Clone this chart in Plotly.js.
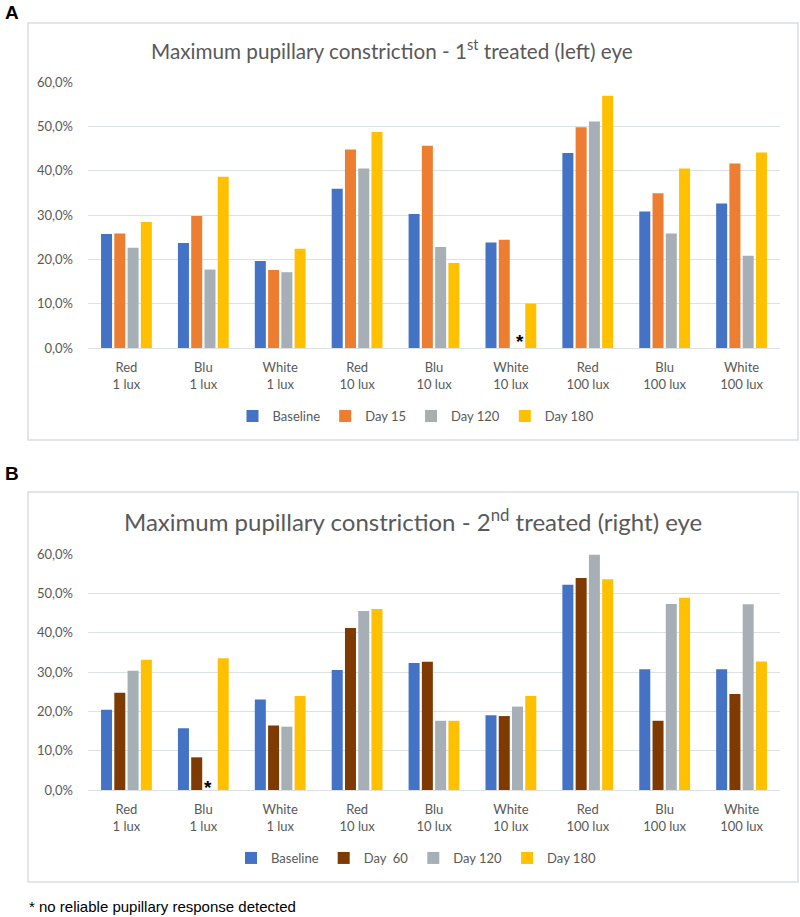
<!DOCTYPE html>
<html>
<head>
<meta charset="utf-8">
<script src="https://cdn.plot.ly/plotly-3.0.1.min.js"></script>
<style>
html, body { margin: 0; padding: 0; background: #ffffff; }
#chart { width: 800px; height: 917px; }
</style>
</head>
<body>
<div id="chart"></div>
<script>
// ---- data ----
const categories = ['Red<br>1 lux', 'Blu<br>1 lux', 'White<br>1 lux', 'Red<br>10 lux', 'Blu<br>10 lux', 'White<br>10 lux', 'Red<br>100 lux', 'Blu<br>100 lux', 'White<br>100 lux'];

const seriesNamesA = ['Baseline', 'Day 15', 'Day 120', 'Day 180'];
const baselineA = [25.7, 23.7, 19.6, 35.9, 30.2, 23.8, 44.0, 30.8, 32.6];
const day15A    = [25.8, 29.8, 17.6, 44.8, 45.6, 24.4, 49.8, 34.9, 41.6];
const day120A   = [22.6, 17.7, 17.1, 40.5, 22.8, null, 51.1, 25.8, 20.8];
const day180A   = [28.4, 38.6, 22.4, 48.7, 19.2, 10.0, 56.9, 40.5, 44.1];

const seriesNamesB = ['Baseline', 'Day\u00a0 60', 'Day 120', 'Day 180'];
const baselineB = [20.4, 15.7, 23.0, 30.5, 32.3, 19.0, 52.2, 30.7, 30.7];
const day60B    = [24.7, 8.3, 16.4, 41.2, 32.6, 18.8, 53.9, 17.6, 24.4];
const day120B   = [30.3, null, 16.1, 45.5, 17.6, 21.2, 59.8, 47.3, 47.2];
const day180B   = [33.1, 33.5, 23.9, 46.0, 17.6, 23.9, 53.6, 48.9, 32.7];

const yTicks = [0, 10, 20, 30, 40, 50, 60];
const yTickLabels = ['0,0%', '10,0%', '20,0%', '30,0%', '40,0%', '50,0%', '60,0%'];

const titleA = 'Maximum pupillary constriction - 1<sup>st</sup> treated (left) eye';
const titleB = 'Maximum pupillary constriction - 2<sup>nd</sup> treated (right) eye';
const footnote = '* no reliable pupillary response detected';

// ---- styles ----
const colorsA = ['#4472C4', '#ED7D31', '#A7AFB6', '#FFC000'];
const colorsB = ['#4472C4', '#7F3A02', '#A7AFB6', '#FFC000'];
const textGray = '#595959';
const gridGray = '#DCE1E4';
const FONT = 'Lato, "Open Sans", sans-serif';

const W = 800, H = 917;
const px = v => v / W;
const py = v => 1 - v / H;

const valsA = [baselineA, day15A, day120A, day180A];
const valsB = [baselineB, day60B, day120B, day180B];

const traces = [];
valsA.forEach((v, i) => traces.push({
  type: 'bar', x: categories, y: v, name: seriesNamesA[i],
  marker: { color: colorsA[i] }, xaxis: 'x', yaxis: 'y', legend: 'legend',
  hoverinfo: 'skip'
}));
valsB.forEach((v, i) => traces.push({
  type: 'bar', x: categories, y: v, name: seriesNamesB[i],
  marker: { color: colorsB[i] }, xaxis: 'x2', yaxis: 'y2', legend: 'legend2',
  hoverinfo: 'skip'
}));

const xaxisBase = {
  type: 'category', showgrid: false, showline: false, zeroline: false, ticks: '',
  tickfont: { family: FONT, size: 13, color: textGray },
  ticklabelstandoff: 10, fixedrange: true
};
const yaxisBase = {
  range: [0, 60], tickmode: 'array', tickvals: yTicks, ticktext: yTickLabels,
  showgrid: true, gridcolor: gridGray, gridwidth: 1,
  zeroline: true, zerolinecolor: gridGray, zerolinewidth: 1,
  showline: false, ticks: '',
  tickfont: { family: FONT, size: 13, color: textGray },
  ticklabelstandoff: 14, fixedrange: true
};

const legendBase = {
  orientation: 'h', xref: 'paper', yref: 'paper', xanchor: 'center', yanchor: 'middle',
  font: { family: FONT, size: 13, color: textGray }, bgcolor: 'rgba(0,0,0,0)',
  traceorder: 'normal', itemclick: false, itemdoubleclick: false
};

const layout = {
  width: W, height: H,
  margin: { l: 0, r: 0, t: 0, b: 0 },
  paper_bgcolor: '#ffffff', plot_bgcolor: '#ffffff',
  separators: ',.',
  barmode: 'group', bargap: 0.31, bargroupgap: 0.17,
  showlegend: true,
  xaxis: Object.assign({}, xaxisBase, { domain: [px(88), px(780)], anchor: 'y' }),
  yaxis: Object.assign({}, yaxisBase, { domain: [py(348), py(82)], anchor: 'x' }),
  xaxis2: Object.assign({}, xaxisBase, { domain: [px(88), px(780)], anchor: 'y2' }),
  yaxis2: Object.assign({}, yaxisBase, { domain: [py(790), py(554)], anchor: 'x2' }),
  legend: Object.assign({}, legendBase, { x: px(416), y: py(416) }),
  legend2: Object.assign({}, legendBase, { x: px(416), y: py(858) }),
  shapes: [
    { type: 'rect', xref: 'paper', yref: 'paper', x0: px(28), x1: px(798), y0: py(440), y1: py(23),
      line: { color: '#D9DEE1', width: 1.5 }, fillcolor: 'rgba(0,0,0,0)', layer: 'below' },
    { type: 'rect', xref: 'paper', yref: 'paper', x0: px(28), x1: px(798), y0: py(882), y1: py(492),
      line: { color: '#D9DEE1', width: 1.5 }, fillcolor: 'rgba(0,0,0,0)', layer: 'below' }
  ],
  annotations: [
    { text: '<b>A</b>', xref: 'paper', yref: 'paper', x: px(3), y: py(12), xanchor: 'left', yanchor: 'middle',
      showarrow: false, font: { family: 'Liberation Sans, Arial, sans-serif', size: 19, color: '#000' } },
    { text: '<b>B</b>', xref: 'paper', yref: 'paper', x: px(3), y: py(473), xanchor: 'left', yanchor: 'middle',
      showarrow: false, font: { family: 'Liberation Sans, Arial, sans-serif', size: 19, color: '#000' } },
    { text: titleA, xref: 'paper', yref: 'paper', x: px(392), y: py(50), xanchor: 'center', yanchor: 'middle',
      showarrow: false, font: { family: FONT, size: 20.7, color: textGray } },
    { text: titleB, xref: 'paper', yref: 'paper', x: px(413), y: py(520), xanchor: 'center', yanchor: 'middle',
      showarrow: false, font: { family: FONT, size: 24, color: textGray } },
    { text: '<b>*</b>', xref: 'x', yref: 'y', x: categories[5], y: 0, xanchor: 'center', yanchor: 'bottom',
      xshift: 9, yshift: -6, showarrow: false, font: { family: 'Liberation Sans, Arial, sans-serif', size: 19, color: '#000' } },
    { text: '<b>*</b>', xref: 'x2', yref: 'y2', x: categories[1], y: 0, xanchor: 'center', yanchor: 'bottom',
      xshift: 5, yshift: -10, showarrow: false, font: { family: 'Liberation Sans, Arial, sans-serif', size: 19, color: '#000' } },
    { text: footnote, xref: 'paper', yref: 'paper', x: px(27), y: py(906), xanchor: 'left', yanchor: 'middle',
      showarrow: false, font: { family: 'Liberation Sans, Arial, sans-serif', size: 15, color: '#000' } }
  ]
};

Plotly.newPlot('chart', traces, layout, { staticPlot: true, displayModeBar: false });
</script>
</body>
</html>
